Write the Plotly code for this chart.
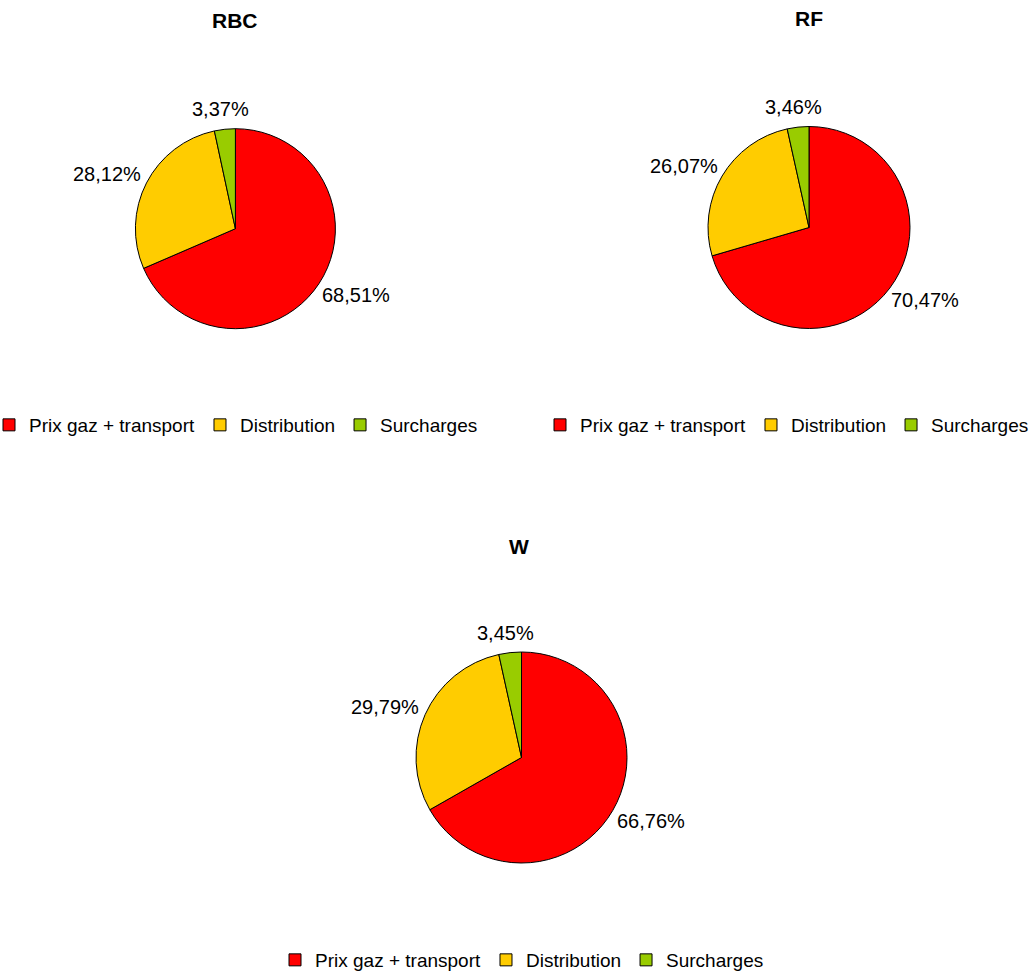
import math
import plotly.graph_objects as go

W_PX, H_PX = 1034, 973

categories = ["Prix gaz + transport", "Distribution", "Surcharges"]
colors = ["#FF0000", "#FFCC00", "#99CC00"]

regions = ["RBC", "RF", "W"]
values_rbc = [68.51, 28.12, 3.37]
values_rf = [70.47, 26.07, 3.46]
values_w = [66.76, 29.79, 3.45]

# layout geometry (pixels): pie centre and radius, title position, legend position
pies = [
    dict(name="RBC", values=values_rbc, cx=235.4, cy=228.7, r=100.0,
         tx=235, ty=20, legend="legend"),
    dict(name="RF", values=values_rf, cx=809.0, cy=227.5, r=101.0,
         tx=809, ty=19, legend="legend2"),
    dict(name="W", values=values_w, cx=521.5, cy=757.5, r=105.5,
         tx=519, ty=546, legend="legend3"),
]

FONT = "Liberation Sans, Arial, sans-serif"
LABEL_SIZE = 20

# approximate Arial advance widths (em) for label width estimation
CHAR_W = {",": 0.278, "%": 0.889}


def text_width(s, size):
    return sum(CHAR_W.get(ch, 0.556) for ch in s) * size


def fmt(v):
    return f"{v:.2f}".replace(".", ",") + "%"


fig = go.Figure()
annotations = []
for p in pies:
    x0 = (p["cx"] - p["r"]) / W_PX
    x1 = (p["cx"] + p["r"]) / W_PX
    y0 = 1 - (p["cy"] + p["r"]) / H_PX
    y1 = 1 - (p["cy"] - p["r"]) / H_PX
    fig.add_trace(go.Pie(
        labels=categories,
        values=p["values"],
        sort=False,
        direction="clockwise",
        rotation=0,
        marker=dict(colors=colors, line=dict(color="black", width=1)),
        textinfo="none",
        domain=dict(x=[x0, x1], y=[y0, y1]),
        legend=p["legend"],
        legendgroup=p["name"],
        hoverinfo="label+value",
    ))
    annotations.append(dict(
        text="<b>" + p["name"] + "</b>", x=p["tx"] / W_PX, y=1 - p["ty"] / H_PX,
        xref="paper", yref="paper", xanchor="center", yanchor="middle",
        showarrow=False, font=dict(family=FONT, size=21, color="black"),
    ))
    # outside data labels, placed along each slice's mid-angle (Excel-like)
    total = sum(p["values"])
    cum = 0.0
    for v in p["values"]:
        mid = (cum + v / 2) / total
        cum += v
        th = 2 * math.pi * mid
        s, c = math.sin(th), math.cos(th)
        d = p["r"] + 10
        ax = p["cx"] + s * d
        ay = p["cy"] - c * d
        label = fmt(v)
        w = text_width(label, LABEL_SIZE)
        h = LABEL_SIZE
        bx = ax + w * s / 2
        by = ay - h * c / 2
        annotations.append(dict(
            text=label, x=bx / W_PX, y=1 - by / H_PX,
            xref="paper", yref="paper", xanchor="center", yanchor="middle",
            showarrow=False, font=dict(family=FONT, size=LABEL_SIZE, color="black"),
        ))

legend_common = dict(orientation="h", yanchor="middle", bgcolor="rgba(0,0,0,0)",
                     traceorder="normal",
                     font=dict(family=FONT, size=19, color="black"),
                     itemclick=False, itemdoubleclick=False)

fig.update_layout(
    width=W_PX, height=H_PX,
    margin=dict(l=0, r=0, t=0, b=0, autoexpand=False),
    paper_bgcolor="white", plot_bgcolor="white",
    annotations=annotations,
    legend=dict(**legend_common, x=236 / W_PX, xanchor="center", y=1 - 425 / H_PX),
    legend2=dict(**legend_common, x=1.0, xanchor="right", y=1 - 425 / H_PX),
    legend3=dict(**legend_common, x=522 / W_PX, xanchor="center", y=1 - 960 / H_PX),
)

fig.write_html("out.html")
